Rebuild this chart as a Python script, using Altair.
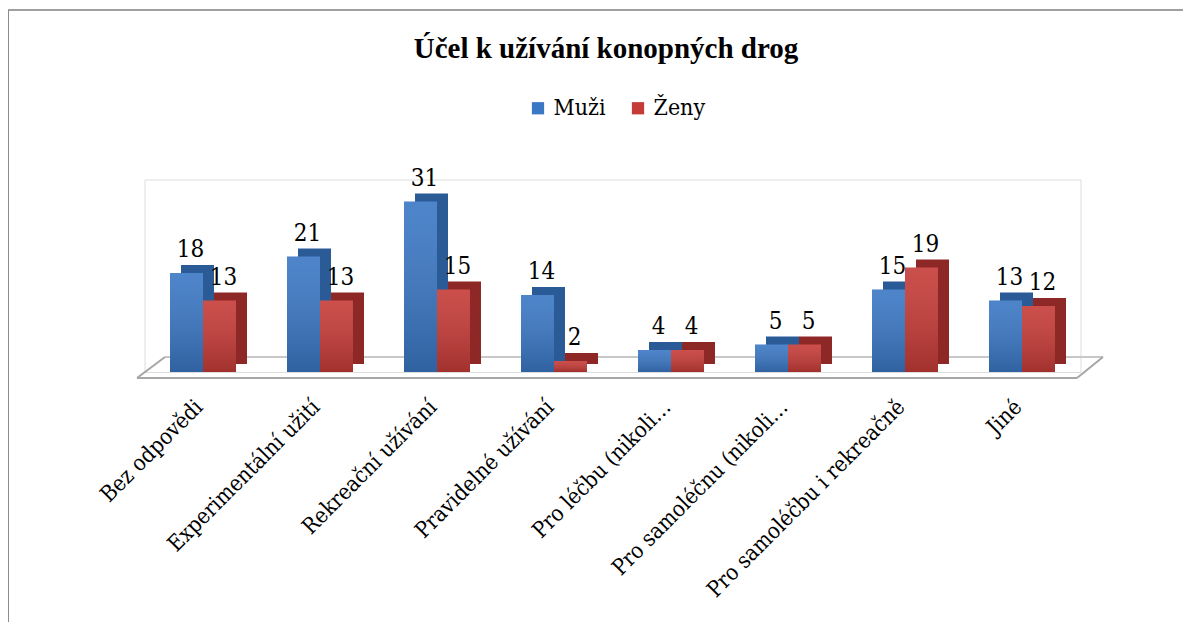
import altair as alt
import pandas as pd

categories = ["Bez odpovědi", "Experimentální užití", "Rekreační užívání",
              "Pravidelné užívání", "Pro léčbu (nikoli…", "Pro samoléčnu (nikoli…",
              "Pro samoléčbu i rekreačně", "Jiné"]
muzi = [18, 21, 31, 14, 4, 5, 15, 13]
zeny = [13, 13, 15, 2, 4, 5, 19, 12]
series = ["Muži", "Ženy"]
title_text = "Účel k užívání konopných drog"

rows = []
for i, c in enumerate(categories):
    rows.append({"cat": c, "serie": "Muži", "val": muzi[i]})
    rows.append({"cat": c, "serie": "Ženy", "val": zeny[i]})
df = pd.DataFrame(rows)

FONT = "DejaVu Serif Condensed, DejaVu Serif"
FONT_T = "Liberation Serif, DejaVu Serif Condensed, DejaVu Serif"
W, H = 936, 192.5
PADL, PADT = 136.5, 171.5
front_colors = ["#3a77c4", "#c53b37"]
back_colors = ["#2b5b97", "#8e2826"]

x_enc = alt.X("cat:N", sort=categories,
              scale=alt.Scale(paddingInner=0.436, paddingOuter=0.218),
              axis=alt.Axis(title=None, labelAngle=-45, labelFont=FONT, labelFontSize=22,
                            labelColor="#000000", domain=False, ticks=False,
                            labelAlign="right", labelBaseline="middle",
                            labelPadding=31, labelOffset=-4, labelLimit=400))
xo_front = alt.XOffset("serie:N", sort=series,
                       scale=alt.Scale(domain=series, paddingInner=0, paddingOuter=0))
xo_back = alt.XOffset("serie:N", sort=series,
                      scale=alt.Scale(domain=series, range=[11, 77], paddingInner=0, paddingOuter=0))
y_enc = alt.Y("val:Q", scale=alt.Scale(domain=[0, 35], nice=False), axis=None)

base = alt.Chart(df)

back = base.mark_bar(yOffset=-8, y2Offset=-8).encode(
    x=x_enc, xOffset=xo_back, y=y_enc,
    color=alt.Color("serie:N", scale=alt.Scale(domain=series, range=back_colors), legend=None),
)

front = base.mark_bar().encode(
    x=x_enc, xOffset=xo_front, y=y_enc,
    color=alt.Color("serie:N", scale=alt.Scale(domain=series, range=front_colors),
                    legend=alt.Legend(title=None, orient="none", direction="horizontal",
                                      legendX=382, legendY=-83, padding=0,
                                      symbolType="square", symbolSize=150,
                                      symbolStrokeWidth=0, labelFont=FONT,
                                      labelFontSize=23, labelColor="#000000",
                                      labelOffset=4, columnPadding=20)),
)

shade = base.mark_bar(color=alt.LinearGradient(
    gradient="linear", x1=0, x2=0, y1=0, y2=1,
    stops=[alt.GradientStop(color="rgba(255,255,255,0.10)", offset=0),
           alt.GradientStop(color="rgba(0,0,0,0.18)", offset=1)])).encode(
    x=x_enc, xOffset=xo_front, y=y_enc,
)

labels = base.mark_text(font=FONT, fontSize=24, baseline="alphabetic", dx=4, dy=-16,
                        color="#000000").encode(
    x=x_enc, xOffset=xo_front, y=y_enc, text=alt.Text("val:Q"),
)

front_group = alt.layer(front, shade, labels)

deco = alt.Chart(pd.DataFrame({"k": [0]}))
title_mark = deco.mark_text(font=FONT_T, fontSize=29, fontWeight="bold", color="#000000",
                            align="center", baseline="alphabetic").encode(
    x=alt.value(461.5), y=alt.value(-121.5), text=alt.value(title_text))
floor_color = "#a6a6a6"
floor_front = deco.mark_rule(color=floor_color, strokeWidth=2).encode(
    x=alt.value(-7.5), x2=alt.value(932.5), y=alt.value(198.5))
floor_back = deco.mark_rule(color="#c8c8c8", strokeWidth=2).encode(
    x=alt.value(20.5), x2=alt.value(958.5), y=alt.value(177.5))
floor_left = deco.mark_rule(color=floor_color, strokeWidth=2).encode(
    x=alt.value(-7.5), x2=alt.value(20.5), y=alt.value(198.5), y2=alt.value(177.5))
floor_right = deco.mark_rule(color=floor_color, strokeWidth=2).encode(
    x=alt.value(932.5), x2=alt.value(958.5), y=alt.value(198.5), y2=alt.value(177.5))
border_top = deco.mark_rule(color="#a0a0a0", strokeWidth=2).encode(
    x=alt.value(-PADL), x2=alt.value(1060), y=alt.value(-169.5))
border_left = deco.mark_rule(color="#8c8c8c", strokeWidth=2).encode(
    x=alt.value(-PADL), y=alt.value(-169.5), y2=alt.value(460))

chart = alt.layer(
    border_top, border_left, title_mark, floor_back, floor_left, floor_right, floor_front,
    back, front_group,
).resolve_scale(color="independent", xOffset="independent").properties(
    width=W, height=H,
    autosize=alt.AutoSizeParams(type="none"),
    padding={"left": PADL, "top": PADT, "right": 102, "bottom": 250},
).configure_view(strokeWidth=0, stroke="transparent").configure(background="#ffffff")

chart.save("out.html", embed_options={"renderer": "svg", "actions": False})
